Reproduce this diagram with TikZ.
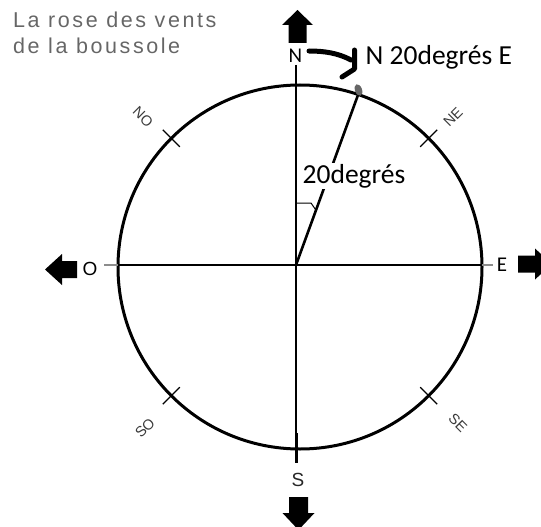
\documentclass[tikz,border=0pt]{standalone}
\usepackage{fontspec}
\usetikzlibrary{calc}
\setmainfont{Carlito}
\newfontfamily\arialf{Liberation Sans}
\newfontfamily\titlef{Liberation Sans}[LetterSpace=12]
\definecolor{titlegray}{HTML}{666666}
\definecolor{lblgray}{HTML}{3A3A3A}
\begin{document}
\begin{tikzpicture}[x=1pt,y=-1pt,
  axis/.style={line width=1.3pt,black},
  tickmark/.style={line width=1.3pt,black},
  bigarrow/.style={fill=black,draw=none},
  dirlbl/.style={font=\arialf\fontsize{14.5}{14.5}\selectfont,text=lblgray,inner sep=0pt},
  cardC/.style={font=\fontsize{21}{21}\selectfont,inner sep=0pt},
  cardA/.style={font=\arialf\fontsize{19}{19}\selectfont,inner sep=0pt},
  title/.style={font=\titlef\fontsize{21.5}{21.5}\selectfont,text=titlegray,inner sep=0pt,anchor=base west},
  hook/.style={line width=5pt,line cap=round,line join=round}]
\useasboundingbox (0,0) rectangle (541,527);
\clip (0,0) rectangle (541,527);
% title
\node[title] (t1) at (13,27.5) {La rose des vents};
\node[title] (t2) at (13,53.5) {de la boussole};
% circle
\coordinate (cc) at (300,267);
\draw[line width=3pt] (cc) circle[radius=182pt];
% axes
\coordinate (ctr) at (296,265);
\coordinate (vtop) at (296,65);
\coordinate (vbot) at (296,463);
\coordinate (hl) at (118,265);
\coordinate (hr) at (482,265);
\draw[axis] (vtop) -- (vbot);
\draw[axis] (hl) -- (hr);
\draw[line width=1.8pt,black!45] (104,265) -- (hl);
\draw[line width=1.8pt,black!45] (hr) -- (493,265);
\draw[line width=1.2pt] (297.2,433) -- (297.2,463);
% diagonal ticks
\foreach \a in {45,135,225,315}{
  \draw[tickmark] ($(cc)+({170*cos(\a)},{-170*sin(\a)})$) -- ($(cc)+({194*cos(\a)},{-194*sin(\a)})$);
}
% diagonal labels
\node[dirlbl,rotate=-45] (no) at (143,117) {NO};
\node[dirlbl,rotate=45] (ne) at (453,117) {NE};
\node[dirlbl,rotate=45] (so) at (145,428) {SO};
\node[dirlbl,rotate=-45] (se) at (458,423) {SE};
% cardinal labels
\node[cardC] (N) at (295.5,56) {N};
\node[cardC] (E) at (502,265) {E};
\node[cardA] (O) at (90,269) {O};
\node[cardA,text=black!85] (S) at (298,480) {S};
% big arrows
\fill[bigarrow] (297.5,10) -- (313,25) -- (306.5,25) -- (306.5,43) -- (288.5,43) -- (288.5,25) -- (282,25) -- cycle;
\fill[bigarrow] (45,269.5) -- (62,254) -- (62,261) -- (77,261) -- (77,278) -- (62,278) -- (62,285) -- cycle;
\fill[bigarrow] (518,255.5) -- (535,255.5) -- (535,248.5) -- (552,264) -- (535,279.5) -- (535,272.5) -- (518,272.5) -- cycle;
\fill[bigarrow] (289,497) -- (308,497) -- (308,513) -- (314.5,513) -- (298.5,530) -- (282.5,513) -- (289,513) -- cycle;
% 20 degree bearing
\coordinate (btip) at (358,95);
\draw[line width=2.6pt] (ctr) -- (btip);
\fill[black!60,rotate around={20:(358.5,90)}] (358.5,90) ellipse[x radius=3.5pt,y radius=6pt];
\node[font=\fontsize{27.5}{27.5}\selectfont,fill=white,inner sep=1pt] (deg) at (354,176) {20degrés};
\draw[line width=1pt] (296,203) -- (311,203) -- (315.5,209.5);
% bearing label and hook arrow
\node[font=\fontsize{27.5}{27.5}\selectfont,anchor=west,inner sep=0pt] (bear) at (365.5,57) {N 20degrés E};
\coordinate (hs) at (309,51);
\coordinate (he) at (351,60);
\draw[hook] (hs) .. controls (324,51) and (338,53) .. (he);
\draw[hook] (354.5,50) -- (354.5,69) -- (342,77);
\end{tikzpicture}
\end{document}
